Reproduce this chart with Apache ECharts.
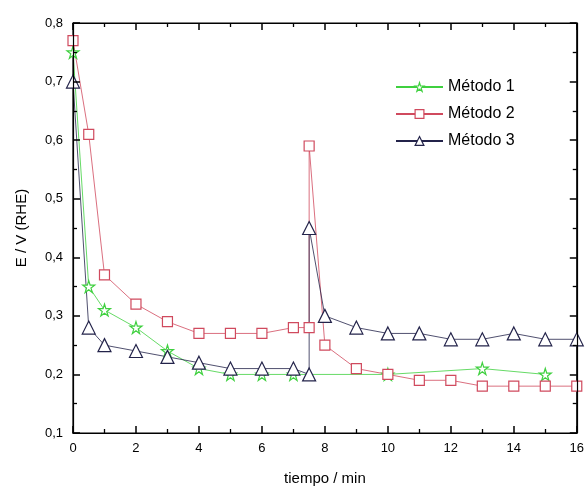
<!DOCTYPE html>
<html><head><meta charset="utf-8">
<script src="https://cdn.jsdelivr.net/npm/echarts@6/dist/echarts.min.js"></script>
<style>html,body{margin:0;padding:0;background:#fff}#c{width:587px;height:491px}</style>
</head><body><div id="c"></div>
<script>
const seriesNames = ['Método 1', 'Método 2', 'Método 3'];
const m1 = [[0,0.75],[0.5,0.35],[1,0.31],[2,0.28],[3,0.24],[4,0.21],[5,0.20],[6,0.20],[7,0.20],[10,0.20],[13,0.21],[15,0.20]];
const m2 = [[0,0.77],[0.5,0.61],[1,0.37],[2,0.32],[3,0.29],[4,0.27],[5,0.27],[6,0.27],[7,0.28],[7.5,0.28],[7.5,0.59],[8,0.25],[9,0.21],[10,0.20],[11,0.19],[12,0.19],[13,0.18],[14,0.18],[15,0.18],[16,0.18]];
const m3 = [[0,0.70],[0.5,0.28],[1,0.25],[2,0.24],[3,0.23],[4,0.22],[5,0.21],[6,0.21],[7,0.21],[7.5,0.20],[7.5,0.45],[8,0.30],[9,0.28],[10,0.27],[11,0.27],[12,0.26],[13,0.26],[14,0.27],[15,0.26],[16,0.26]];
const xTitle = 'tiempo / min';
const yTitle = 'E / V (RHE)';

const star = 'path://M50,0 L61,35 L98,35 L68,57 L79,91 L50,70 L21,91 L32,57 L2,35 L39,35 Z';
const colors = ['#3fd03f', '#d04a5e', '#23234a'];
const symbols = [star, 'rect', 'triangle'];
const fmt = v => v.toFixed(1).replace('.', ',');
const font = 'Liberation Sans, Arial, sans-serif';
const mkLine = () => ({show: true, onZero: false, lineStyle: {color: '#000', width: 1.2}});
const mkTick = () => ({show: true, inside: true, length: 7, lineStyle: {color: '#000', width: 1.5}});
const mkMinor = () => ({show: true, splitNumber: 2, length: 4, lineStyle: {color: '#000', width: 1.3}});
const chart = echarts.init(document.getElementById('c'));
function mk(i, data, size, axisIdx) {
  const color = colors[i];
  return {
    name: seriesNames[i], type: 'line', data, symbol: symbols[i], symbolSize: size, showSymbol: true,
    clip: false, xAxisIndex: axisIdx, yAxisIndex: axisIdx,
    lineStyle: {color, width: 0.8},
    itemStyle: {color: '#fff', borderColor: color, borderWidth: 1.2},
    emphasis: {disabled: true}, animation: false
  };
}
chart.setOption({
  animation: false,
  grid: {left: 73, right: 7, top: 23, bottom: 56, show: true, borderColor: '#000', borderWidth: 1.2, backgroundColor: 'transparent'},
  legend: {
    left: 390, top: 74, orient: 'vertical', itemWidth: 47, itemHeight: 11, itemGap: 11,
    textStyle: {fontFamily: font, fontSize: 16, color: '#000'},
    data: seriesNames.map((n, i) => ({name: n,
      itemStyle: {color: '#fff', borderColor: colors[i], borderWidth: 1.2}}))
  },
  xAxis: [{
    type: 'value', min: 0, max: 16, interval: 2, position: 'bottom', z: 5,
    name: xTitle, nameLocation: 'middle', nameGap: 38,
    nameTextStyle: {fontFamily: font, fontSize: 15, color: '#000'},
    axisLine: mkLine(), axisTick: mkTick(), minorTick: mkMinor(),
    axisLabel: {fontFamily: font, fontSize: 13, color: '#000', margin: 9},
    splitLine: {show: false}
  }, {
    type: 'value', min: 0, max: 16, interval: 2, position: 'top', z: 5,
    axisLine: mkLine(), axisTick: mkTick(), minorTick: mkMinor(),
    axisLabel: {show: false}, splitLine: {show: false}
  }],
  yAxis: [{
    type: 'value', min: 0.1, max: 0.8, interval: 0.1, position: 'left', z: 5,
    name: yTitle, nameLocation: 'middle', nameGap: 44, nameRotate: 90,
    nameTextStyle: {fontFamily: font, fontSize: 15, color: '#000'},
    axisLine: mkLine(), axisTick: mkTick(), minorTick: mkMinor(),
    axisLabel: {fontFamily: font, fontSize: 13, color: '#000', margin: 10, formatter: fmt},
    splitLine: {show: false}
  }, {
    type: 'value', min: 0.1, max: 0.8, interval: 0.1, position: 'right', z: 5,
    axisLine: mkLine(), axisTick: mkTick(), minorTick: mkMinor(),
    axisLabel: {show: false}, splitLine: {show: false}
  }],
  series: [
    mk(0, m1, 12, 0),
    mk(1, m2, 10, 1),
    mk(2, m3, 13, 0)
  ]
});
</script></body></html>
